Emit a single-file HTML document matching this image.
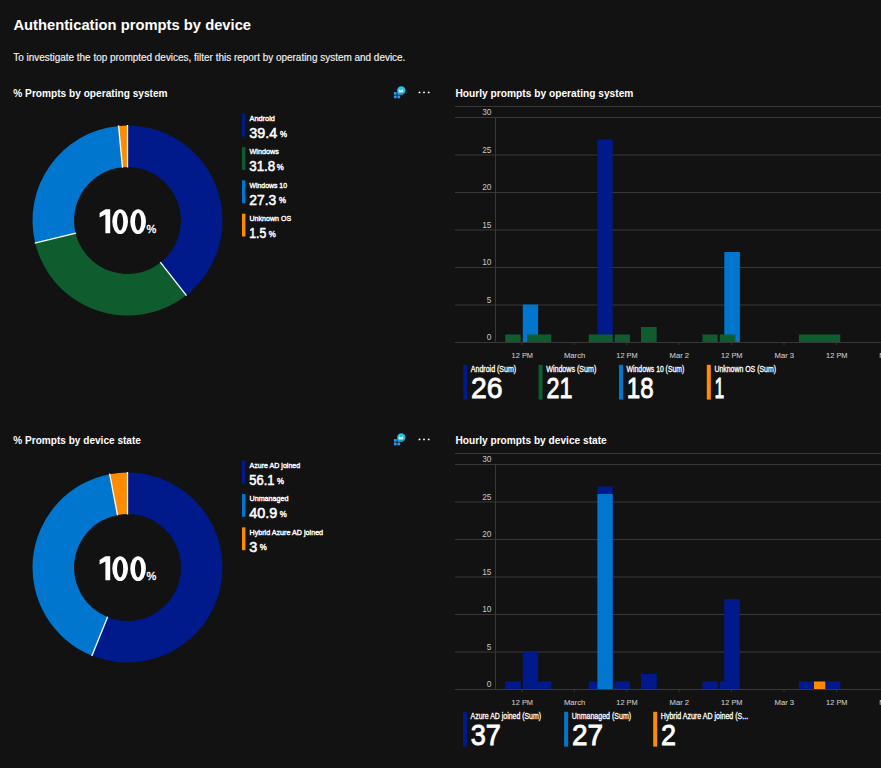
<!DOCTYPE html><html><head><meta charset="utf-8"><style>html,body{margin:0;padding:0;background:#121212;width:881px;height:768px;overflow:hidden}svg{display:block}text{font-family:"Liberation Sans", sans-serif}</style></head><body>
<svg width="881" height="768" viewBox="0 0 881 768">
<rect width="881" height="768" fill="#121212"/>
<text x="13.40" y="29.50" font-size="14.75" font-weight="700" fill="#fff" text-anchor="start" >Authentication prompts by device</text>
<text x="13.20" y="60.80" font-size="10.6" font-weight="400" fill="#f4f4f4" text-anchor="start" textLength="392.20" lengthAdjust="spacingAndGlyphs" stroke="#f4f4f4" stroke-width="0.15" >To investigate the top prompted devices, filter this report by operating system and device.</text>
<text x="13.30" y="96.70" font-size="10.6" font-weight="700" fill="#fff" text-anchor="start" textLength="154.30" lengthAdjust="spacingAndGlyphs" >% Prompts by operating system</text>
<text x="455.50" y="96.70" font-size="10.6" font-weight="700" fill="#fff" text-anchor="start" textLength="177.90" lengthAdjust="spacingAndGlyphs" >Hourly prompts by operating system</text>
<g transform="translate(0,0)"><rect x="393.9" y="92.0" width="2.8" height="2.7" rx="0.5" fill="#2e95f0"/><rect x="397.4" y="92.0" width="2.8" height="2.7" rx="0.5" fill="#2e95f0"/><rect x="393.9" y="95.6" width="2.8" height="2.7" rx="0.5" fill="#2e95f0"/><rect x="397.4" y="95.6" width="2.8" height="2.7" rx="0.5" fill="#2e95f0"/><circle cx="401.3" cy="90.5" r="4.15" fill="#20c4ec"/><path d="M397.6 92.2A4.15 4.15 0 0 0 405 92.2Z" fill="#1496c4"/><path d="M398.9 89.2L400.9 90.6L402.9 89.2L403.3 92.4H398.6Z" fill="#cdeefa"/><circle cx="419.5" cy="92.4" r="0.95" fill="#fff"/><circle cx="424" cy="92.4" r="0.95" fill="#fff"/><circle cx="428.7" cy="92.4" r="0.95" fill="#fff"/></g>
<path d="M127.50 125.50A95 95 0 0 1 186.20 295.20L160.56 262.57A53.5 53.5 0 0 0 127.50 167.00Z" fill="#001a8c"/>
<path d="M186.20 295.20A95 95 0 0 1 35.19 242.97L75.52 233.15A53.5 53.5 0 0 0 160.56 262.57Z" fill="#0f5c2e"/>
<path d="M35.19 242.97A95 95 0 0 1 118.56 125.92L122.47 167.24A53.5 53.5 0 0 0 75.52 233.15Z" fill="#0076ce"/>
<path d="M118.56 125.92A95 95 0 0 1 127.50 125.50L127.50 167.00A53.5 53.5 0 0 0 122.47 167.24Z" fill="#ff8c00"/>
<line x1="127.50" y1="167.50" x2="127.50" y2="125.00" stroke="#fff" stroke-width="1.3"/>
<line x1="160.25" y1="262.17" x2="186.51" y2="295.59" stroke="#fff" stroke-width="1.3"/>
<line x1="76.00" y1="233.03" x2="34.71" y2="243.09" stroke="#fff" stroke-width="1.3"/>
<line x1="122.51" y1="167.74" x2="118.51" y2="125.42" stroke="#fff" stroke-width="1.3"/>
<g transform="translate(0,0)"><path d="M105.4 209.2H110.2V233.3H105.4V214.6L99.6 217.6V213.1Z" fill="#fff"/><path fill-rule="evenodd" d="M112.30000000000001 221.6a7.85 12.45 0 1 0 15.7 0a7.85 12.45 0 1 0 -15.7 0ZM117.05000000000001 221.6a3.1 8.8 0 1 0 6.2 0a3.1 8.8 0 1 0 -6.2 0Z" fill="#fff"/><path fill-rule="evenodd" d="M130.25 221.6a7.85 12.45 0 1 0 15.7 0a7.85 12.45 0 1 0 -15.7 0ZM135.0 221.6a3.1 8.8 0 1 0 6.2 0a3.1 8.8 0 1 0 -6.2 0Z" fill="#fff"/></g>
<text x="146.60" y="233.20" font-size="11" font-weight="400" fill="#fff" text-anchor="start" stroke="#fff" stroke-width="0.35" >%</text>
<rect x="242" y="113.70" width="3.4" height="22.8" fill="#001a8c"/>
<text x="249.50" y="120.90" font-size="7.8" font-weight="400" fill="#fff" text-anchor="start" textLength="25.40" lengthAdjust="spacingAndGlyphs" stroke="#fff" stroke-width="0.4" >Android</text>
<text x="249.30" y="137.90" font-size="14.7" font-weight="400" fill="#fff" text-anchor="start" textLength="27.90" lengthAdjust="spacingAndGlyphs" stroke="#fff" stroke-width="0.55" >39.4</text>
<text x="279.90" y="136.70" font-size="8.4" font-weight="400" fill="#fff" text-anchor="start" textLength="7.00" lengthAdjust="spacingAndGlyphs" stroke="#fff" stroke-width="0.4" >%</text>
<rect x="242" y="147.03" width="3.4" height="22.8" fill="#0f5c2e"/>
<text x="249.50" y="154.23" font-size="7.8" font-weight="400" fill="#fff" text-anchor="start" textLength="29.30" lengthAdjust="spacingAndGlyphs" stroke="#fff" stroke-width="0.4" >Windows</text>
<text x="249.30" y="171.23" font-size="14.7" font-weight="400" fill="#fff" text-anchor="start" textLength="25.90" lengthAdjust="spacingAndGlyphs" stroke="#fff" stroke-width="0.55" >31.8</text>
<text x="276.80" y="170.03" font-size="8.4" font-weight="400" fill="#fff" text-anchor="start" textLength="7.00" lengthAdjust="spacingAndGlyphs" stroke="#fff" stroke-width="0.4" >%</text>
<rect x="242" y="180.36" width="3.4" height="22.8" fill="#0076ce"/>
<text x="249.50" y="187.56" font-size="7.8" font-weight="400" fill="#fff" text-anchor="start" textLength="37.50" lengthAdjust="spacingAndGlyphs" stroke="#fff" stroke-width="0.4" >Windows 10</text>
<text x="249.30" y="204.56" font-size="14.7" font-weight="400" fill="#fff" text-anchor="start" textLength="26.90" lengthAdjust="spacingAndGlyphs" stroke="#fff" stroke-width="0.55" >27.3</text>
<text x="278.90" y="203.36" font-size="8.4" font-weight="400" fill="#fff" text-anchor="start" textLength="7.00" lengthAdjust="spacingAndGlyphs" stroke="#fff" stroke-width="0.4" >%</text>
<rect x="242" y="213.69" width="3.4" height="22.8" fill="#ff8c00"/>
<text x="249.50" y="220.89" font-size="7.8" font-weight="400" fill="#fff" text-anchor="start" textLength="41.60" lengthAdjust="spacingAndGlyphs" stroke="#fff" stroke-width="0.4" >Unknown OS</text>
<text x="249.30" y="237.89" font-size="14.7" font-weight="400" fill="#fff" text-anchor="start" textLength="17.00" lengthAdjust="spacingAndGlyphs" stroke="#fff" stroke-width="0.55" >1.5</text>
<text x="268.70" y="236.69" font-size="8.4" font-weight="400" fill="#fff" text-anchor="start" textLength="7.00" lengthAdjust="spacingAndGlyphs" stroke="#fff" stroke-width="0.4" >%</text>
<rect x="455" y="106" width="426" height="1" fill="#383838"/>
<rect x="455" y="342.00" width="426" height="1" fill="#383838"/>
<text x="491.40" y="340.20" font-size="8.3" font-weight="400" fill="#c8c8c8" text-anchor="end" >0</text>
<rect x="455" y="304.50" width="426" height="1" fill="#383838"/>
<text x="491.40" y="302.70" font-size="8.3" font-weight="400" fill="#c8c8c8" text-anchor="end" >5</text>
<rect x="455" y="267.00" width="426" height="1" fill="#383838"/>
<text x="491.40" y="265.20" font-size="8.3" font-weight="400" fill="#c8c8c8" text-anchor="end" >10</text>
<rect x="455" y="229.50" width="426" height="1" fill="#383838"/>
<text x="491.40" y="227.70" font-size="8.3" font-weight="400" fill="#c8c8c8" text-anchor="end" >15</text>
<rect x="455" y="192.00" width="426" height="1" fill="#383838"/>
<text x="491.40" y="190.20" font-size="8.3" font-weight="400" fill="#c8c8c8" text-anchor="end" >20</text>
<rect x="455" y="154.50" width="426" height="1" fill="#383838"/>
<text x="491.40" y="152.70" font-size="8.3" font-weight="400" fill="#c8c8c8" text-anchor="end" >25</text>
<rect x="455" y="117.00" width="426" height="1" fill="#383838"/>
<text x="491.40" y="115.20" font-size="8.3" font-weight="400" fill="#c8c8c8" text-anchor="end" >30</text>
<rect x="495" y="117" width="1" height="225" fill="#383838"/>
<rect x="521.5" y="342" width="1" height="3" fill="#383838"/>
<text x="522.30" y="358.20" font-size="8.1" font-weight="400" fill="#c8c8c8" text-anchor="middle" textLength="21.40" lengthAdjust="spacingAndGlyphs" stroke="#c8c8c8" stroke-width="0.1" >12 PM</text>
<rect x="573.8" y="342" width="1" height="3" fill="#383838"/>
<text x="574.60" y="358.20" font-size="8.1" font-weight="400" fill="#c8c8c8" text-anchor="middle" textLength="21.30" lengthAdjust="spacingAndGlyphs" stroke="#c8c8c8" stroke-width="0.1" >March</text>
<rect x="626.2" y="342" width="1" height="3" fill="#383838"/>
<text x="627.00" y="358.20" font-size="8.1" font-weight="400" fill="#c8c8c8" text-anchor="middle" textLength="21.40" lengthAdjust="spacingAndGlyphs" stroke="#c8c8c8" stroke-width="0.1" >12 PM</text>
<rect x="678.5" y="342" width="1" height="3" fill="#383838"/>
<text x="679.30" y="358.20" font-size="8.1" font-weight="400" fill="#c8c8c8" text-anchor="middle" textLength="19.60" lengthAdjust="spacingAndGlyphs" stroke="#c8c8c8" stroke-width="0.1" >Mar 2</text>
<rect x="731.0" y="342" width="1" height="3" fill="#383838"/>
<text x="731.80" y="358.20" font-size="8.1" font-weight="400" fill="#c8c8c8" text-anchor="middle" textLength="21.40" lengthAdjust="spacingAndGlyphs" stroke="#c8c8c8" stroke-width="0.1" >12 PM</text>
<rect x="783.5" y="342" width="1" height="3" fill="#383838"/>
<text x="784.30" y="358.20" font-size="8.1" font-weight="400" fill="#c8c8c8" text-anchor="middle" textLength="19.60" lengthAdjust="spacingAndGlyphs" stroke="#c8c8c8" stroke-width="0.1" >Mar 3</text>
<rect x="836.0" y="342" width="1" height="3" fill="#383838"/>
<text x="836.80" y="358.20" font-size="8.1" font-weight="400" fill="#c8c8c8" text-anchor="middle" textLength="21.40" lengthAdjust="spacingAndGlyphs" stroke="#c8c8c8" stroke-width="0.1" >12 PM</text>
<rect x="888.3" y="342" width="1" height="3" fill="#383838"/>
<text x="889.10" y="358.20" font-size="8.1" font-weight="400" fill="#c8c8c8" text-anchor="middle" textLength="19.60" lengthAdjust="spacingAndGlyphs" stroke="#c8c8c8" stroke-width="0.1" >Mar 4</text>
<path d="M597.4 139.5H612.7V342H597.4Z" fill="#001a8c"/>
<path d="M522.8 304.5H538.1V342H522.8ZM724.3 252.0H739.9V342H724.3Z" fill="#0076ce"/>
<path d="M505.3 334.5H520.7V342H505.3ZM527 334.5H551.3V342H527ZM588.7 334.5H612.7V342H588.7ZM614.8 334.5H630V342H614.8ZM641 327.0H656.7V342H641ZM702.5 334.5H717.7V342H702.5ZM719.8 334.5H735.4V342H719.8ZM798.9 334.5H840.3V342H798.9Z" fill="#0f5c2e"/>
<rect x="463.2" y="364.8" width="4" height="34.8" fill="#001a8c"/>
<text x="470.80" y="371.80" font-size="8.2" font-weight="400" fill="#fff" text-anchor="start" textLength="45.40" lengthAdjust="spacingAndGlyphs" stroke="#fff" stroke-width="0.3" >Android (Sum)</text>
<text x="471.00" y="398.30" font-size="30.2" font-weight="400" fill="#fff" text-anchor="start" textLength="31.50" lengthAdjust="spacingAndGlyphs" stroke="#fff" stroke-width="0.9" >26</text>
<rect x="538.6" y="364.8" width="4" height="34.8" fill="#0f5c2e"/>
<text x="546.20" y="371.80" font-size="8.2" font-weight="400" fill="#fff" text-anchor="start" textLength="50.10" lengthAdjust="spacingAndGlyphs" stroke="#fff" stroke-width="0.3" >Windows (Sum)</text>
<text x="546.40" y="398.30" font-size="30.2" font-weight="400" fill="#fff" text-anchor="start" textLength="26.00" lengthAdjust="spacingAndGlyphs" stroke="#fff" stroke-width="0.9" >21</text>
<rect x="619.0" y="364.8" width="4" height="34.8" fill="#0076ce"/>
<text x="626.60" y="371.80" font-size="8.2" font-weight="400" fill="#fff" text-anchor="start" textLength="57.60" lengthAdjust="spacingAndGlyphs" stroke="#fff" stroke-width="0.3" >Windows 10 (Sum)</text>
<text x="626.80" y="398.30" font-size="30.2" font-weight="400" fill="#fff" text-anchor="start" textLength="26.80" lengthAdjust="spacingAndGlyphs" stroke="#fff" stroke-width="0.9" >18</text>
<rect x="706.8" y="364.8" width="4" height="34.8" fill="#ff8c00"/>
<text x="714.40" y="371.80" font-size="8.2" font-weight="400" fill="#fff" text-anchor="start" textLength="61.60" lengthAdjust="spacingAndGlyphs" stroke="#fff" stroke-width="0.3" >Unknown OS (Sum)</text>
<text x="714.60" y="398.30" font-size="30.2" font-weight="400" fill="#fff" text-anchor="start" textLength="9.80" lengthAdjust="spacingAndGlyphs" stroke="#fff" stroke-width="0.9" >1</text>
<text x="13.30" y="443.70" font-size="10.6" font-weight="700" fill="#fff" text-anchor="start" textLength="127.60" lengthAdjust="spacingAndGlyphs" >% Prompts by device state</text>
<text x="455.50" y="443.70" font-size="10.6" font-weight="700" fill="#fff" text-anchor="start" textLength="151.20" lengthAdjust="spacingAndGlyphs" >Hourly prompts by device state</text>
<g transform="translate(0,347)"><rect x="393.9" y="92.0" width="2.8" height="2.7" rx="0.5" fill="#2e95f0"/><rect x="397.4" y="92.0" width="2.8" height="2.7" rx="0.5" fill="#2e95f0"/><rect x="393.9" y="95.6" width="2.8" height="2.7" rx="0.5" fill="#2e95f0"/><rect x="397.4" y="95.6" width="2.8" height="2.7" rx="0.5" fill="#2e95f0"/><circle cx="401.3" cy="90.5" r="4.15" fill="#20c4ec"/><path d="M397.6 92.2A4.15 4.15 0 0 0 405 92.2Z" fill="#1496c4"/><path d="M398.9 89.2L400.9 90.6L402.9 89.2L403.3 92.4H398.6Z" fill="#cdeefa"/><circle cx="419.5" cy="92.4" r="0.95" fill="#fff"/><circle cx="424" cy="92.4" r="0.95" fill="#fff"/><circle cx="428.7" cy="92.4" r="0.95" fill="#fff"/></g>
<path d="M127.50 472.50A95 95 0 1 1 91.97 655.61L107.49 617.12A53.5 53.5 0 1 0 127.50 514.00Z" fill="#001a8c"/>
<path d="M91.97 655.61A95 95 0 0 1 109.70 474.18L117.48 514.95A53.5 53.5 0 0 0 107.49 617.12Z" fill="#0076ce"/>
<path d="M109.70 474.18A95 95 0 0 1 127.50 472.50L127.50 514.00A53.5 53.5 0 0 0 117.48 514.95Z" fill="#ff8c00"/>
<line x1="127.50" y1="514.50" x2="127.50" y2="472.00" stroke="#fff" stroke-width="1.3"/>
<line x1="107.68" y1="616.65" x2="91.79" y2="656.07" stroke="#fff" stroke-width="1.3"/>
<line x1="117.57" y1="515.44" x2="109.61" y2="473.69" stroke="#fff" stroke-width="1.3"/>
<g transform="translate(0,347)"><path d="M105.4 209.2H110.2V233.3H105.4V214.6L99.6 217.6V213.1Z" fill="#fff"/><path fill-rule="evenodd" d="M112.30000000000001 221.6a7.85 12.45 0 1 0 15.7 0a7.85 12.45 0 1 0 -15.7 0ZM117.05000000000001 221.6a3.1 8.8 0 1 0 6.2 0a3.1 8.8 0 1 0 -6.2 0Z" fill="#fff"/><path fill-rule="evenodd" d="M130.25 221.6a7.85 12.45 0 1 0 15.7 0a7.85 12.45 0 1 0 -15.7 0ZM135.0 221.6a3.1 8.8 0 1 0 6.2 0a3.1 8.8 0 1 0 -6.2 0Z" fill="#fff"/></g>
<text x="146.60" y="580.20" font-size="11" font-weight="400" fill="#fff" text-anchor="start" stroke="#fff" stroke-width="0.35" >%</text>
<rect x="242" y="460.70" width="3.4" height="22.8" fill="#001a8c"/>
<text x="249.50" y="467.90" font-size="7.8" font-weight="400" fill="#fff" text-anchor="start" textLength="50.70" lengthAdjust="spacingAndGlyphs" stroke="#fff" stroke-width="0.4" >Azure AD joined</text>
<text x="249.30" y="484.90" font-size="14.7" font-weight="400" fill="#fff" text-anchor="start" textLength="25.20" lengthAdjust="spacingAndGlyphs" stroke="#fff" stroke-width="0.55" >56.1</text>
<text x="277.00" y="483.70" font-size="8.4" font-weight="400" fill="#fff" text-anchor="start" textLength="7.00" lengthAdjust="spacingAndGlyphs" stroke="#fff" stroke-width="0.4" >%</text>
<rect x="242" y="494.03" width="3.4" height="22.8" fill="#0076ce"/>
<text x="249.50" y="501.23" font-size="7.8" font-weight="400" fill="#fff" text-anchor="start" textLength="39.00" lengthAdjust="spacingAndGlyphs" stroke="#fff" stroke-width="0.4" >Unmanaged</text>
<text x="249.30" y="518.23" font-size="14.7" font-weight="400" fill="#fff" text-anchor="start" textLength="28.10" lengthAdjust="spacingAndGlyphs" stroke="#fff" stroke-width="0.55" >40.9</text>
<text x="279.80" y="517.03" font-size="8.4" font-weight="400" fill="#fff" text-anchor="start" textLength="7.00" lengthAdjust="spacingAndGlyphs" stroke="#fff" stroke-width="0.4" >%</text>
<rect x="242" y="527.36" width="3.4" height="22.8" fill="#ff8c00"/>
<text x="249.50" y="534.56" font-size="7.8" font-weight="400" fill="#fff" text-anchor="start" textLength="73.60" lengthAdjust="spacingAndGlyphs" stroke="#fff" stroke-width="0.4" >Hybrid Azure AD joined</text>
<text x="249.30" y="551.56" font-size="14.7" font-weight="400" fill="#fff" text-anchor="start" textLength="8.00" lengthAdjust="spacingAndGlyphs" stroke="#fff" stroke-width="0.55" >3</text>
<text x="259.80" y="550.36" font-size="8.4" font-weight="400" fill="#fff" text-anchor="start" textLength="7.00" lengthAdjust="spacingAndGlyphs" stroke="#fff" stroke-width="0.4" >%</text>
<rect x="455" y="453" width="426" height="1" fill="#383838"/>
<rect x="455" y="689.00" width="426" height="1" fill="#383838"/>
<text x="491.40" y="687.20" font-size="8.3" font-weight="400" fill="#c8c8c8" text-anchor="end" >0</text>
<rect x="455" y="651.50" width="426" height="1" fill="#383838"/>
<text x="491.40" y="649.70" font-size="8.3" font-weight="400" fill="#c8c8c8" text-anchor="end" >5</text>
<rect x="455" y="614.00" width="426" height="1" fill="#383838"/>
<text x="491.40" y="612.20" font-size="8.3" font-weight="400" fill="#c8c8c8" text-anchor="end" >10</text>
<rect x="455" y="576.50" width="426" height="1" fill="#383838"/>
<text x="491.40" y="574.70" font-size="8.3" font-weight="400" fill="#c8c8c8" text-anchor="end" >15</text>
<rect x="455" y="539.00" width="426" height="1" fill="#383838"/>
<text x="491.40" y="537.20" font-size="8.3" font-weight="400" fill="#c8c8c8" text-anchor="end" >20</text>
<rect x="455" y="501.50" width="426" height="1" fill="#383838"/>
<text x="491.40" y="499.70" font-size="8.3" font-weight="400" fill="#c8c8c8" text-anchor="end" >25</text>
<rect x="455" y="464.00" width="426" height="1" fill="#383838"/>
<text x="491.40" y="462.20" font-size="8.3" font-weight="400" fill="#c8c8c8" text-anchor="end" >30</text>
<rect x="495" y="464" width="1" height="225" fill="#383838"/>
<rect x="521.5" y="689" width="1" height="3" fill="#383838"/>
<text x="522.30" y="705.20" font-size="8.1" font-weight="400" fill="#c8c8c8" text-anchor="middle" textLength="21.40" lengthAdjust="spacingAndGlyphs" stroke="#c8c8c8" stroke-width="0.1" >12 PM</text>
<rect x="573.8" y="689" width="1" height="3" fill="#383838"/>
<text x="574.60" y="705.20" font-size="8.1" font-weight="400" fill="#c8c8c8" text-anchor="middle" textLength="21.30" lengthAdjust="spacingAndGlyphs" stroke="#c8c8c8" stroke-width="0.1" >March</text>
<rect x="626.2" y="689" width="1" height="3" fill="#383838"/>
<text x="627.00" y="705.20" font-size="8.1" font-weight="400" fill="#c8c8c8" text-anchor="middle" textLength="21.40" lengthAdjust="spacingAndGlyphs" stroke="#c8c8c8" stroke-width="0.1" >12 PM</text>
<rect x="678.5" y="689" width="1" height="3" fill="#383838"/>
<text x="679.30" y="705.20" font-size="8.1" font-weight="400" fill="#c8c8c8" text-anchor="middle" textLength="19.60" lengthAdjust="spacingAndGlyphs" stroke="#c8c8c8" stroke-width="0.1" >Mar 2</text>
<rect x="731.0" y="689" width="1" height="3" fill="#383838"/>
<text x="731.80" y="705.20" font-size="8.1" font-weight="400" fill="#c8c8c8" text-anchor="middle" textLength="21.40" lengthAdjust="spacingAndGlyphs" stroke="#c8c8c8" stroke-width="0.1" >12 PM</text>
<rect x="783.5" y="689" width="1" height="3" fill="#383838"/>
<text x="784.30" y="705.20" font-size="8.1" font-weight="400" fill="#c8c8c8" text-anchor="middle" textLength="19.60" lengthAdjust="spacingAndGlyphs" stroke="#c8c8c8" stroke-width="0.1" >Mar 3</text>
<rect x="836.0" y="689" width="1" height="3" fill="#383838"/>
<text x="836.80" y="705.20" font-size="8.1" font-weight="400" fill="#c8c8c8" text-anchor="middle" textLength="21.40" lengthAdjust="spacingAndGlyphs" stroke="#c8c8c8" stroke-width="0.1" >12 PM</text>
<rect x="888.3" y="689" width="1" height="3" fill="#383838"/>
<text x="889.10" y="705.20" font-size="8.1" font-weight="400" fill="#c8c8c8" text-anchor="middle" textLength="19.60" lengthAdjust="spacingAndGlyphs" stroke="#c8c8c8" stroke-width="0.1" >Mar 4</text>
<path d="M505.3 681.5H520.7V689H505.3ZM522.8 651.5H538.1V689H522.8ZM527 681.5H542.3V689H527ZM536 681.5H551.3V689H536ZM588.7 681.5H604V689H588.7ZM597.4 486.5H612.7V689H597.4ZM614.8 681.5H630V689H614.8ZM641 674.0H656.7V689H641ZM702.5 681.5H717.7V689H702.5ZM719.8 681.5H735.4V689H719.8ZM724.3 599.0H739.9V689H724.3ZM798.9 681.5H814V689H798.9ZM825.3 681.5H840.3V689H825.3Z" fill="#001a8c"/>
<path d="M597.4 494.0H612.7V689H597.4Z" fill="#0076ce"/>
<path d="M814 681.5H825.3V689H814Z" fill="#ff8c00"/>
<rect x="463.0" y="711.8" width="4" height="34.8" fill="#001a8c"/>
<text x="470.60" y="718.80" font-size="8.2" font-weight="400" fill="#fff" text-anchor="start" textLength="70.40" lengthAdjust="spacingAndGlyphs" stroke="#fff" stroke-width="0.3" >Azure AD joined (Sum)</text>
<text x="470.80" y="745.30" font-size="30.2" font-weight="400" fill="#fff" text-anchor="start" textLength="30.10" lengthAdjust="spacingAndGlyphs" stroke="#fff" stroke-width="0.9" >37</text>
<rect x="564.1" y="711.8" width="4" height="34.8" fill="#0076ce"/>
<text x="571.70" y="718.80" font-size="8.2" font-weight="400" fill="#fff" text-anchor="start" textLength="59.40" lengthAdjust="spacingAndGlyphs" stroke="#fff" stroke-width="0.3" >Unmanaged (Sum)</text>
<text x="571.90" y="745.30" font-size="30.2" font-weight="400" fill="#fff" text-anchor="start" textLength="31.10" lengthAdjust="spacingAndGlyphs" stroke="#fff" stroke-width="0.9" >27</text>
<rect x="653.2" y="711.8" width="4" height="34.8" fill="#ff8c00"/>
<text x="660.80" y="718.80" font-size="8.2" font-weight="400" fill="#fff" text-anchor="start" textLength="87.30" lengthAdjust="spacingAndGlyphs" stroke="#fff" stroke-width="0.3" >Hybrid Azure AD joined (S...</text>
<text x="661.00" y="745.30" font-size="30.2" font-weight="400" fill="#fff" text-anchor="start" textLength="15.00" lengthAdjust="spacingAndGlyphs" stroke="#fff" stroke-width="0.9" >2</text>
</svg></body></html>
